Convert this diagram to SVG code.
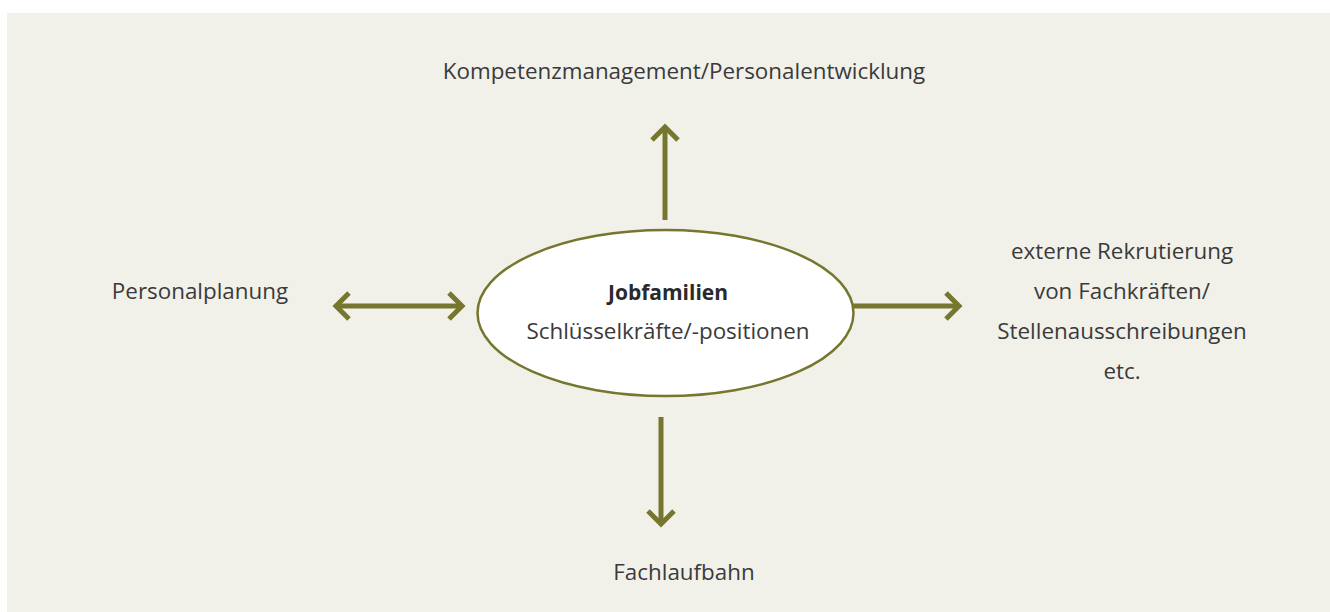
<svg xmlns="http://www.w3.org/2000/svg" width="1330" height="612" viewBox="0 0 1330 612">
<defs>
<style>
.bg{fill:#f1f1ea}
.t{font-family:"Open Sans","Liberation Sans",sans-serif;font-size:22.4px;fill:#3a3a3a;text-anchor:middle}
.b{font-weight:bold;font-size:21px;fill:#2a2a2a}
.ln{stroke:#76762f;stroke-width:5;fill:none}
.node{fill:#fff;stroke:#76762f;stroke-width:2.5}
</style>
<marker id="ah" markerUnits="userSpaceOnUse" markerWidth="40" markerHeight="40" viewBox="-20 -20 40 40" refX="0" refY="0" orient="auto-start-reverse">
<path d="M-13,-13 L0,0 L-13,13" fill="none" stroke="#76762f" stroke-width="5"/>
</marker>
</defs>
<rect class="bg" x="7" y="13" width="1323" height="599"/>
<g id="connectors">
<line class="ln" x1="665" y1="220" x2="665" y2="127" marker-end="url(#ah)"/>
<line class="ln" x1="661" y1="417" x2="661" y2="524" marker-end="url(#ah)"/>
<line class="ln" x1="336" y1="306" x2="462" y2="306" marker-start="url(#ah)" marker-end="url(#ah)"/>
<line class="ln" x1="853" y1="306" x2="959" y2="306" marker-end="url(#ah)"/>
</g>
<g id="center">
<ellipse class="node" cx="665.5" cy="313" rx="188" ry="83"/>
<text class="t b" x="668" y="300">Jobfamilien</text>
<text class="t" x="668" y="339">Schlüsselkräfte/-positionen</text>
</g>
<g id="top"><text class="t" x="684" y="79">Kompetenzmanagement/Personalentwicklung</text></g>
<g id="left"><text class="t" x="200" y="299">Personalplanung</text></g>
<g id="bottom"><text class="t" x="684" y="580">Fachlaufbahn</text></g>
<g id="right">
<text class="t" x="1122" y="259">externe Rekrutierung</text>
<text class="t" x="1122" y="299">von Fachkräften/</text>
<text class="t" x="1122" y="339">Stellenausschreibungen</text>
<text class="t" x="1122" y="379">etc.</text>
</g>
</svg>
